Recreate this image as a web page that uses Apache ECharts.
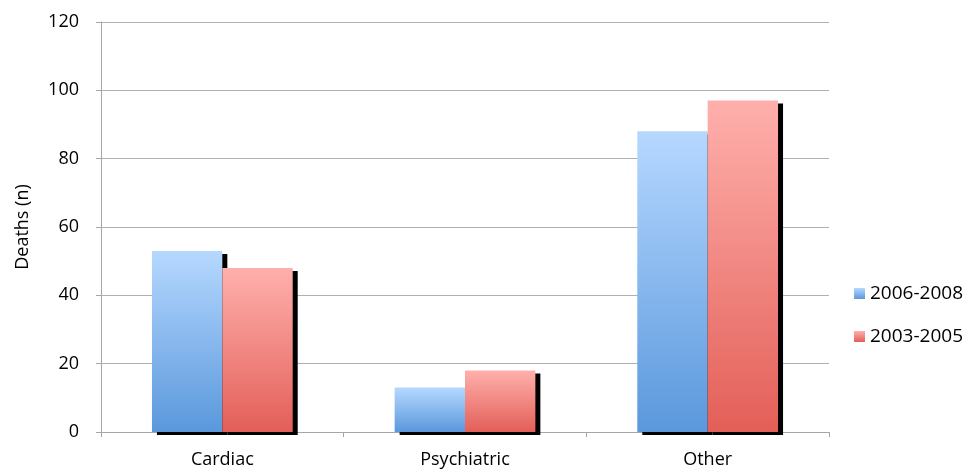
<!DOCTYPE html>
<html><head><meta charset="utf-8">
<script src="https://cdn.jsdelivr.net/npm/echarts@6/dist/echarts.min.js"></script>
<style>html,body{margin:0;padding:0;background:#fff}#c{width:972px;height:471px}</style>
</head><body><div id="c"></div>
<script>
const categories = ['Cardiac', 'Psychiatric', 'Other'];
const series2006 = [53, 13, 88];
const series2003 = [48, 18, 97];
const seriesNames = ['2006-2008', '2003-2005'];
const yTicks = [0, 20, 40, 60, 80, 100, 120];

const font = '"Open Sans", "Liberation Sans", sans-serif';
function grad(top, bottom) {
  return new echarts.graphic.LinearGradient(0, 0, 0, 1, [
    {offset: 0, color: top}, {offset: 1, color: bottom}
  ]);
}
const chart = echarts.init(document.getElementById('c'));
chart.setOption({
  animation: false,
  grid: {left: 101, right: 143, top: 22, bottom: 39},
  legend: {
    orient: 'vertical', left: 849, top: 279,
    itemWidth: 11, itemHeight: 11, itemGap: 24,
    icon: 'rect',
    textStyle: {fontFamily: font, fontSize: 19, color: '#000'},
    data: seriesNames
  },
  xAxis: {
    type: 'category', data: categories,
    axisLine: {lineStyle: {color: '#a6a6a6'}},
    axisTick: {show: true, length: 5, lineStyle: {color: '#a6a6a6'}},
    axisLabel: {fontFamily: font, fontSize: 18, color: '#000', margin: 19}
  },
  yAxis: {
    type: 'value', min: yTicks[0], max: yTicks[yTicks.length - 1], interval: 20,
    name: 'Deaths (n)', nameLocation: 'middle', nameGap: 69,
    nameTextStyle: {fontFamily: font, fontSize: 18, color: '#000'},
    axisLine: {show: true, lineStyle: {color: '#a6a6a6'}},
    axisTick: {show: true, length: 5, lineStyle: {color: '#a6a6a6'}},
    axisLabel: {fontFamily: font, fontSize: 18, color: '#000', margin: 22},
    splitLine: {lineStyle: {color: '#b0b0b0'}}
  },
  series: [
    {
      name: seriesNames[0], type: 'bar', data: series2006,
      barGap: '0%', barCategoryGap: '42%',
      itemStyle: {
        color: grad('#b6d8ff', '#5a98dc'),
        shadowColor: 'rgba(0,0,0,1)', shadowOffsetX: 5, shadowOffsetY: 3
      }
    },
    {
      name: seriesNames[1], type: 'bar', data: series2003,
      barGap: '0%', barCategoryGap: '42%',
      itemStyle: {
        color: grad('#ffb0ac', '#e35f58'),
        shadowColor: 'rgba(0,0,0,1)', shadowOffsetX: 5, shadowOffsetY: 3
      }
    }
  ]
});
</script></body></html>
